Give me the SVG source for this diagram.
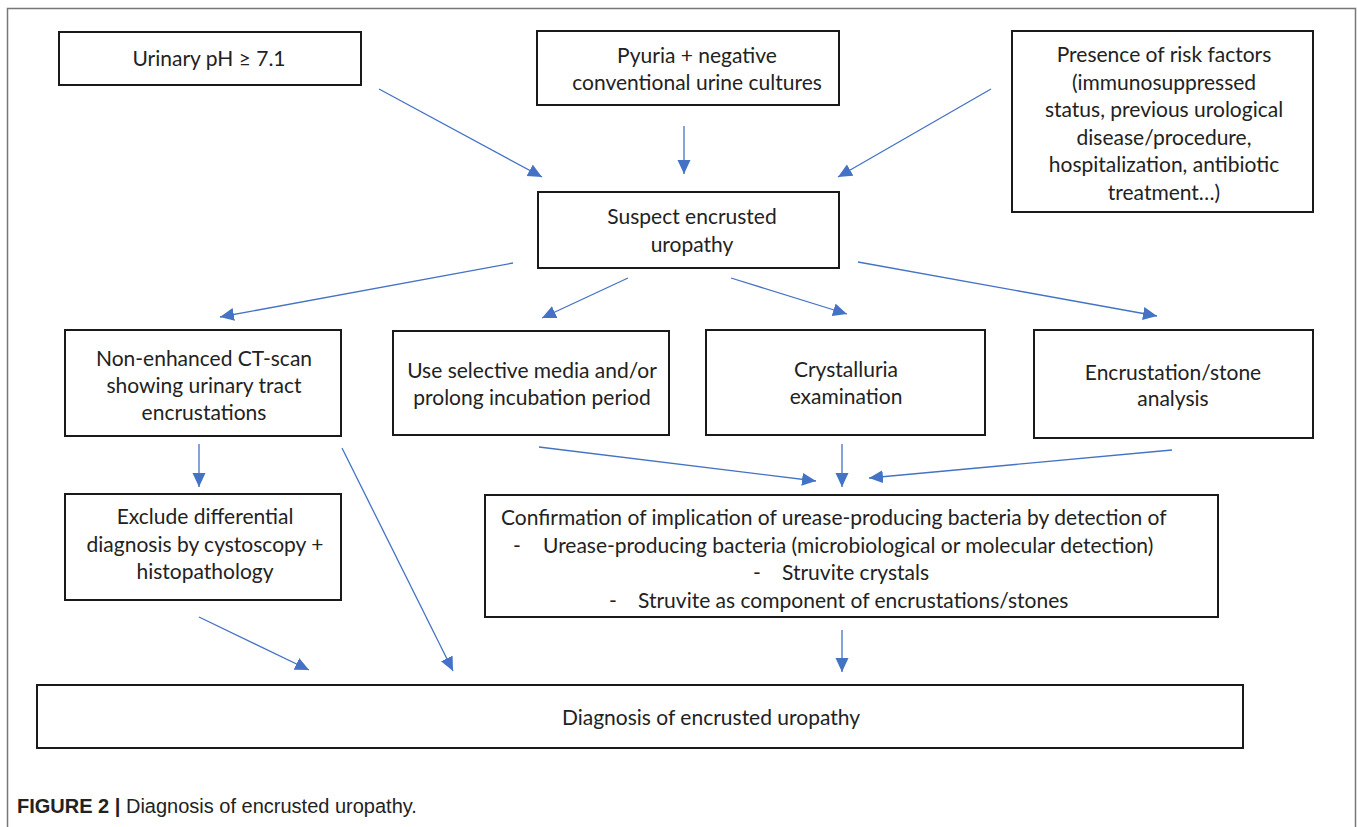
<svg xmlns="http://www.w3.org/2000/svg" width="1357" height="827" viewBox="0 0 1357 827">
<style>
.box{fill:#fff;stroke:#1a1a1a;stroke-width:2}
.t{font-family:Lato,"Open Sans","Liberation Sans",sans-serif;font-size:21px;fill:#222;text-anchor:middle}
.tl{font-family:Lato,"Open Sans","Liberation Sans",sans-serif;font-size:21px;fill:#222}
.c{stroke:#4472C4;stroke-width:1.3;fill:none;marker-end:url(#ah)}
.cap{font-family:"Liberation Sans",Arial,sans-serif;font-size:20px;fill:#222}
</style>
<defs>
<marker id="ah" markerUnits="userSpaceOnUse" markerWidth="15" markerHeight="14" refX="14" refY="6.5" orient="auto">
<path d="M0,0 L14,6.5 L0,13 z" fill="#4472C4"/>
</marker>
</defs>
<rect width="1357" height="827" fill="#fff"/>
<path d="M7.5,827 V8.5 H1355.5 V827" fill="none" stroke="#777" stroke-width="1.5"/>
<g id="n-ph"><rect class="box" x="59" y="32" width="302" height="53"/><text class="t" x="209" y="66">Urinary pH ≥ 7.1</text></g>
<g id="n-pyuria"><rect class="box" x="537" y="31" width="302" height="74"/><text class="t" x="697" y="63">Pyuria + negative</text><text class="t" x="697" y="90">conventional urine cultures</text></g>
<g id="n-risk"><rect class="box" x="1012" y="31" width="301" height="181"/>
<text class="t" x="1164" y="62">Presence of risk factors</text>
<text class="t" x="1164" y="89.5">(immunosuppressed</text>
<text class="t" x="1164" y="117">status, previous urological</text>
<text class="t" x="1164" y="144.5">disease/procedure,</text>
<text class="t" x="1164" y="172">hospitalization, antibiotic</text>
<text class="t" x="1164" y="199.5">treatment…)</text></g>
<g id="n-suspect"><rect class="box" x="538" y="192" width="301" height="76"/><text class="t" x="692" y="224">Suspect encrusted</text><text class="t" x="692" y="251.5">uropathy</text></g>
<g id="n-ct"><rect class="box" x="65" y="330" width="276" height="106"/><text class="t" x="204" y="366">Non-enhanced CT-scan</text><text class="t" x="204" y="393">showing urinary tract</text><text class="t" x="204" y="420">encrustations</text></g>
<g id="n-media"><rect class="box" x="393" y="331" width="276" height="104"/><text class="t" x="532" y="378">Use selective media and/or</text><text class="t" x="532" y="405">prolong incubation period</text></g>
<g id="n-crystal"><rect class="box" x="706" y="330" width="279" height="105"/><text class="t" x="846" y="377">Crystalluria</text><text class="t" x="846" y="404">examination</text></g>
<g id="n-stone"><rect class="box" x="1034" y="330" width="279" height="108"/><text class="t" x="1173" y="380">Encrustation/stone</text><text class="t" x="1173" y="406">analysis</text></g>
<g id="n-exclude"><rect class="box" x="65" y="494" width="276" height="106"/><text class="t" x="205" y="524">Exclude differential</text><text class="t" x="205" y="551.5">diagnosis by cystoscopy +</text><text class="t" x="205" y="579">histopathology</text></g>
<g id="n-confirm"><rect class="box" x="485" y="495" width="733" height="122"/>
<text class="tl" x="501" y="525">Confirmation of implication of urease-producing bacteria by detection of</text>
<text class="tl" x="513" y="552.5">-</text><text class="tl" x="543" y="552.5">Urease-producing bacteria (microbiological or molecular detection)</text>
<text class="tl" x="753" y="580">-</text><text class="tl" x="782" y="580">Struvite crystals</text>
<text class="tl" x="609" y="607.5">-</text><text class="tl" x="638" y="607.5">Struvite as component of encrustations/stones</text></g>
<g id="n-diagnosis"><rect class="box" x="37" y="685" width="1206" height="63"/><text class="t" x="711" y="725">Diagnosis of encrusted uropathy</text></g>
<g id="connectors">
<line class="c" x1="379" y1="89" x2="542" y2="177"/>
<line class="c" x1="684" y1="126" x2="684" y2="174"/>
<line class="c" x1="991" y1="89" x2="838" y2="177"/>
<line class="c" x1="513" y1="263" x2="220" y2="317"/>
<line class="c" x1="628" y1="278" x2="542" y2="318"/>
<line class="c" x1="731" y1="278" x2="847" y2="314"/>
<line class="c" x1="858" y1="262" x2="1157" y2="316"/>
<line class="c" x1="199" y1="444" x2="199" y2="487"/>
<line class="c" x1="342" y1="448" x2="453" y2="671"/>
<line class="c" x1="199" y1="617" x2="309" y2="670"/>
<line class="c" x1="539" y1="447" x2="816" y2="481"/>
<line class="c" x1="842" y1="444" x2="842" y2="487"/>
<line class="c" x1="1172" y1="450" x2="869" y2="478"/>
<line class="c" x1="842" y1="630" x2="842" y2="672"/>
</g>
<text class="cap" x="17" y="813"><tspan font-weight="bold">FIGURE 2 |</tspan> Diagnosis of encrusted uropathy.</text>
</svg>
